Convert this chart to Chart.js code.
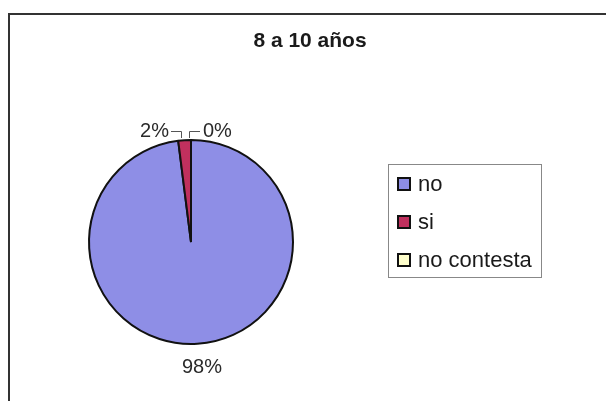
<!DOCTYPE html>
<html>
<head>
<meta charset="utf-8">
<script src="https://cdn.jsdelivr.net/npm/chart.js@4"></script>
<style>
  html, body { margin: 0; padding: 0; background: #fff; }
  #wrap { width: 606px; height: 401px; position: relative; }
</style>
</head>
<body>
<div id="wrap"><canvas id="pie" width="606" height="401"></canvas></div>
<script>
// data
const categories = ['no', 'si', 'no contesta'];
const percentValues = [98, 2, 0];
const sliceColors = ['#8e8ee6', '#c0305e', '#ffffcc'];
const chartTitle = '8 a 10 años';

const FONT = '"Liberation Sans", Arial, sans-serif';

// frame, title, percent labels and the legend box
const decorations = {
  id: 'decorations',
  afterDraw(chart) {
    const ctx = chart.ctx;
    ctx.save();
    // outer frame (cut on right and bottom)
    ctx.strokeStyle = '#333';
    ctx.lineWidth = 2;
    ctx.beginPath();
    ctx.moveTo(9, 401);
    ctx.lineTo(9, 14);
    ctx.lineTo(606, 14);
    ctx.stroke();

    // title
    ctx.fillStyle = '#1a1a1a';
    ctx.font = 'bold 21px ' + FONT;
    ctx.textAlign = 'center';
    ctx.textBaseline = 'middle';
    ctx.fillText(chartTitle, 310, 41);

    // percent labels
    ctx.font = '20px ' + FONT;
    ctx.fillStyle = '#2a2a2a';
    ctx.fillText(percentValues[0] + '%', 202, 367);
    ctx.textAlign = 'right';
    ctx.fillText(percentValues[1] + '%', 169, 131);
    ctx.textAlign = 'left';
    ctx.fillText(percentValues[2] + '%', 203, 131);
    // leader lines
    ctx.strokeStyle = '#555';
    ctx.lineWidth = 1;
    ctx.beginPath();
    ctx.moveTo(171, 131.5); ctx.lineTo(181.5, 131.5); ctx.lineTo(181.5, 138);
    ctx.moveTo(200, 131.5); ctx.lineTo(189.5, 131.5); ctx.lineTo(189.5, 138);
    ctx.stroke();

    // legend box
    ctx.strokeStyle = '#888';
    ctx.lineWidth = 1;
    ctx.strokeRect(388.5, 164.5, 153, 113);
    ctx.textAlign = 'left';
    ctx.font = '22px ' + FONT;
    const rowY = [184, 222, 260];
    categories.forEach((name, i) => {
      ctx.fillStyle = sliceColors[i];
      ctx.fillRect(398, rowY[i] - 6, 12, 12);
      ctx.strokeStyle = '#111';
      ctx.lineWidth = 2;
      ctx.strokeRect(398, rowY[i] - 6, 12, 12);
      ctx.fillStyle = '#1a1a1a';
      ctx.fillText(name, 418, rowY[i] + 1);
    });
    ctx.restore();
  }
};

const ctx = document.getElementById('pie').getContext('2d');
new Chart(ctx, {
  type: 'pie',
  data: {
    labels: categories,
    datasets: [{
      data: percentValues,
      backgroundColor: sliceColors,
      borderColor: '#111',
      borderWidth: 2
    }]
  },
  options: {
    responsive: false,
    animation: false,
    layout: {
      padding: { left: 88, right: 312, top: 139, bottom: 56 }
    },
    plugins: {
      legend: { display: false },
      tooltip: { enabled: false }
    }
  },
  plugins: [decorations]
});
</script>
</body>
</html>
